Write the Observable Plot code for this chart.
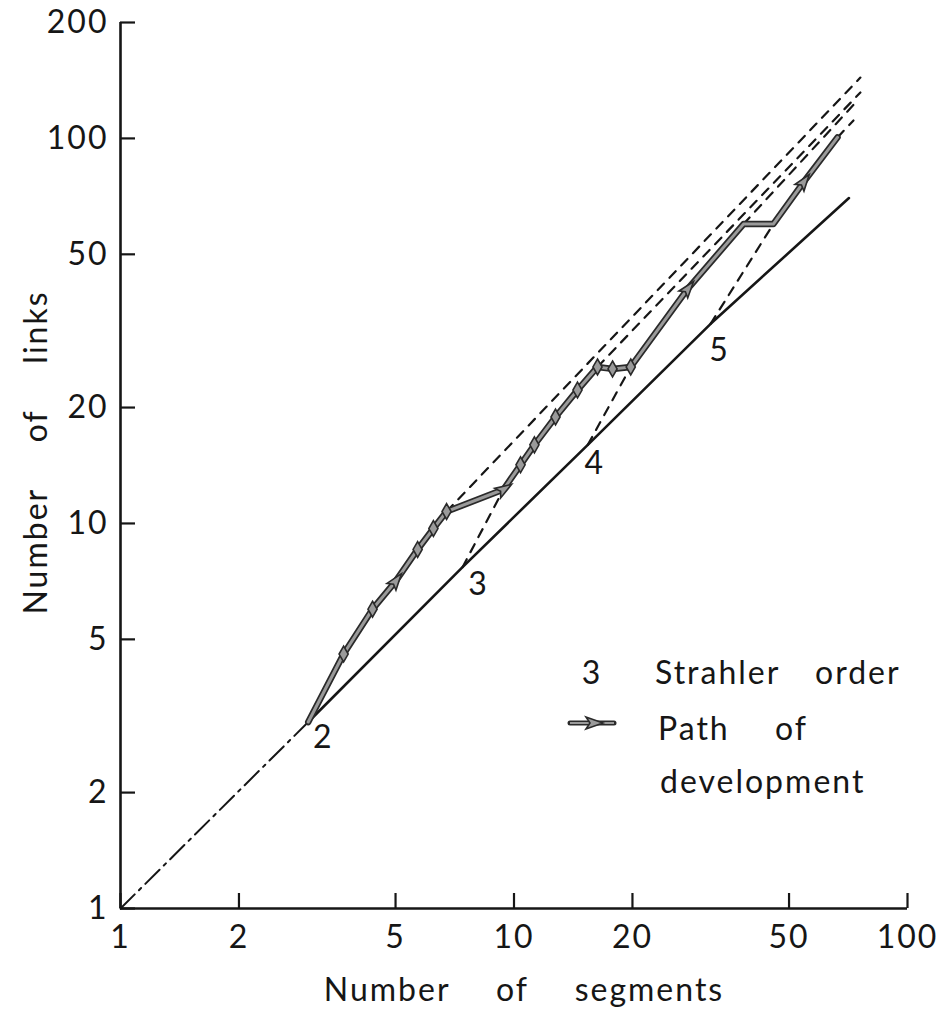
<!DOCTYPE html>
<html>
<head>
<meta charset="utf-8">
<script src="https://cdn.jsdelivr.net/npm/d3@7"></script>
<script src="https://cdn.jsdelivr.net/npm/@observablehq/plot@0.6"></script>
<style>
  html, body { margin: 0; padding: 0; background: #fff; }
  #chart { width: 947px; height: 1012px; }
</style>
</head>
<body>
<div id="chart"></div>
<script>
// Growth of a channel network: number of links against number of segments,
// both on logarithmic axes, with the path a network follows as it develops.

const xTicks = [1, 2, 5, 10, 20, 50, 100];
const yTicks = [1, 2, 5, 10, 20, 50, 100, 200];

// dash-dot diagonal from the origin up to the first order-2 network
const baseX = [1, 3];
const baseY = [1, 3.05];

// smallest network of each Strahler order (labelled points on the solid line)
const orderNames = ["2", "3", "4", "5"];
const orderX = [3, 7.4, 15.4, 31.6];
const orderY = [3.05, 7.7, 16.0, 33.0];

// solid line through the order points
const minX = [3, 7.4, 15.4, 31.6, 71];
const minY = [3.05, 7.7, 16.0, 33.0, 70];

// path of development; each vertex is a node, an arrow or a plain bend
const pathX = [3, 3.69, 4.37, 5.0, 5.69, 6.24, 6.74, 9.4, 10.39, 11.27, 12.75, 14.5, 16.3, 17.8, 19.8, 27.6, 38.3, 45.6, 54.4, 66.4];
const pathY = [3.05, 4.58, 5.99, 7.07, 8.56, 9.70, 10.74, 12.25, 14.2, 16.0, 18.9, 22.2, 25.5, 25.2, 25.5, 40.6, 59.9, 59.9, 76.9, 100.6];
const pathKind = ["", "node", "node", "arrow", "node", "node", "node", "arrow", "node", "node", "node", "node", "node", "node", "node", "arrow", "", "", "arrow", ""];

// dashed trend lines of each order (steep rise to the path, then continuation past it)
const dashGroup = ["d1", "d1", "d2a", "d2a", "d2b", "d2b", "d3a", "d3a", "d3b", "d3b", "d4a", "d4a", "d4b", "d4b"];
const dashX = [6.74, 75.9, 7.4, 9.4, 16.3, 75.9, 15.4, 19.8, 38.3, 74.6, 31.6, 45.6, 66.4, 72.9];
const dashY = [10.74, 143.9, 7.7, 12.25, 25.5, 131.6, 16.0, 25.5, 59.9, 125.4, 33.0, 59.9, 100.6, 111.3];

// layout
const W = 947, H = 1012;
const mLeft = 120, mRight = 40, mTop = 22, mBottom = 104;
const ink = "#161616";
const font = "Lato, 'Noto Sans', sans-serif";
// label placement next to each order point, in pixels
const orderOffset = {"2": [15, 16], "3": [16, 18], "4": [7, 19], "5": [9, 27]};

const base = baseX.map((x, i) => ({x, y: baseY[i]}));
const orders = orderNames.map((name, i) => ({name, x: orderX[i], y: orderY[i]}));
const minLine = minX.map((x, i) => ({x, y: minY[i]}));
const dashes = dashX.map((x, i) => ({g: dashGroup[i], x, y: dashY[i]}));
const path = pathX.map((x, i) => ({x, y: pathY[i], kind: pathKind[i]}));

// arrowheads point along the path: screen angle from the neighbouring vertices
const kx = (W - mLeft - mRight) / Math.log10(100);
const ky = (H - mTop - mBottom) / Math.log10(200);
path.forEach((d, i) => {
  const a = path[Math.max(0, i - 1)], b = path[Math.min(path.length - 1, i + 1)];
  const dx = Math.log10(b.x / a.x) * kx, dy = Math.log10(b.y / a.y) * ky;
  d.angle = Math.atan2(dx, dy) * 180 / Math.PI;
});

// slender arrowhead, tip pointing up before rotation
const arrowHead = {
  draw(ctx, size) {
    const r = Math.sqrt(size / Math.PI);
    ctx.moveTo(0, -r * 1.3);
    ctx.lineTo(r * 0.75, r * 0.9);
    ctx.lineTo(0, r * 0.45);
    ctx.lineTo(-r * 0.75, r * 0.9);
    ctx.closePath();
  }
};

const orderLabels = orders.map(d =>
  Plot.text([d], {x: "x", y: "y", text: "name", dx: orderOffset[d.name][0], dy: orderOffset[d.name][1], fill: ink, fontSize: 32})
);

const plot = Plot.plot({
  width: W,
  height: H,
  marginLeft: mLeft,
  marginRight: mRight,
  marginTop: mTop,
  marginBottom: mBottom,
  style: {fontFamily: font, fontSize: "32px", color: ink, background: "#fff", letterSpacing: "2px", wordSpacing: "36px"},
  x: {type: "log", domain: [1, 100]},
  y: {type: "log", domain: [1, 200]},
  marks: [
    Plot.axisX(xTicks, {tickSize: -15, tickPadding: 32, tickFormat: d => String(d), label: null, stroke: ink, strokeWidth: 2.2, fill: ink}),
    Plot.axisY(yTicks, {tickSize: -15, tickPadding: 27, tickFormat: d => String(d), label: null, stroke: ink, strokeWidth: 2.2, fill: ink}),
    Plot.ruleX([1], {y1: 1, y2: 200, stroke: ink, strokeWidth: 2.6}),
    Plot.ruleY([1], {x1: 1, x2: 100, stroke: ink, strokeWidth: 2.6}),
    Plot.line(base, {x: "x", y: "y", stroke: ink, strokeWidth: 2, strokeDasharray: "20,6,3,6"}),
    Plot.line(dashes, {x: "x", y: "y", z: "g", stroke: ink, strokeWidth: 2.2, strokeDasharray: "9,8"}),
    Plot.line(minLine, {x: "x", y: "y", stroke: ink, strokeWidth: 2.6}),
    // path of development: dark casing with a grey core
    Plot.line(path, {x: "x", y: "y", stroke: "#2a2a2a", strokeWidth: 6.5, strokeLinejoin: "round", strokeLinecap: "round"}),
    Plot.line(path, {x: "x", y: "y", stroke: "#9a9a9a", strokeWidth: 3, strokeLinejoin: "round", strokeLinecap: "round"}),
    Plot.dot(path.filter(d => d.kind === "node"), {x: "x", y: "y", symbol: "diamond", r: 4.8, fill: "#9a9a9a", stroke: "#2a2a2a", strokeWidth: 1.6}),
    Plot.dot(path.filter(d => d.kind === "arrow"), {x: "x", y: "y", symbol: arrowHead, r: 7.5, rotate: "angle", fill: "#9a9a9a", stroke: "#2a2a2a", strokeWidth: 1.6}),
    ...orderLabels,
    Plot.text(["Number of segments"], {frameAnchor: "bottom", textAnchor: "middle", dx: 10, dy: 92, fill: ink, fontSize: 32}),
    Plot.text(["Number of links"], {frameAnchor: "left", textAnchor: "middle", lineAnchor: "middle", dx: -84, dy: -13, rotate: -90, fill: ink, fontSize: 32})
  ]
});

// legend inside the plot area
const svg = d3.select(plot);
const lg = svg.append("g")
  .attr("font-family", font).attr("font-size", 32).attr("fill", ink)
  .attr("text-anchor", "start").style("word-spacing", "0px");
lg.append("text").attr("x", 592).attr("y", 684).attr("text-anchor", "middle").text("3");
lg.append("text").attr("x", 655).attr("y", 684).text("Strahler");
lg.append("text").attr("x", 815).attr("y", 684).text("order");
lg.append("text").attr("x", 658).attr("y", 740).text("Path");
lg.append("text").attr("x", 775).attr("y", 740).text("of");
lg.append("text").attr("x", 660).attr("y", 793).text("development");
lg.append("line").attr("x1", 570).attr("y1", 723).attr("x2", 614).attr("y2", 723)
  .attr("stroke", "#2a2a2a").attr("stroke-width", 5).attr("stroke-linecap", "round");
lg.append("line").attr("x1", 570).attr("y1", 723).attr("x2", 614).attr("y2", 723)
  .attr("stroke", "#9a9a9a").attr("stroke-width", 2);
lg.append("path").attr("d", "M603,723 L586,717 L590,723 L586,729 Z")
  .attr("fill", "#9a9a9a").attr("stroke", "#2a2a2a").attr("stroke-width", 1.6);

document.getElementById("chart").appendChild(plot);
</script>
</body>
</html>
